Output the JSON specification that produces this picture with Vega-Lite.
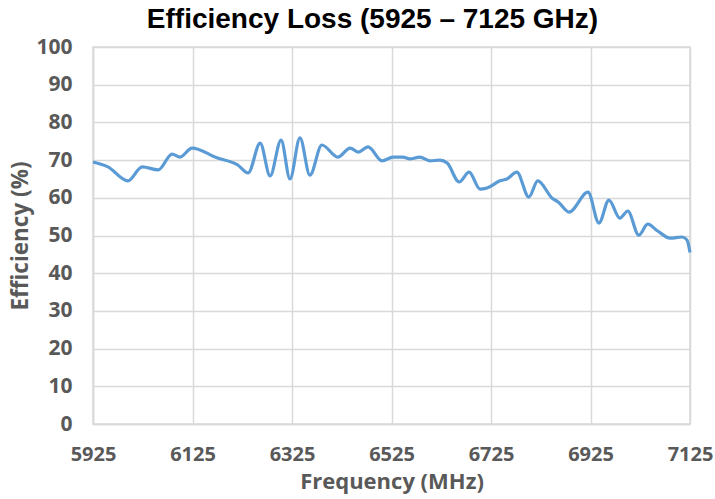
{
  "$schema": "https://vega.github.io/schema/vega-lite/v6.json",
  "width": 597,
  "height": 377,
  "autosize": {"type": "none"},
  "padding": {"left": 93, "top": 47, "right": 25, "bottom": 75},
  "background": "white",
  "title": {
    "text": "Efficiency Loss (5925 – 7125 GHz)",
    "font": "Liberation Sans",
    "fontSize": 28,
    "fontWeight": "bold",
    "color": "#000000",
    "anchor": "middle",
    "dx": -19,
    "offset": 2
  },
  "data": {
    "values": [
      {"f": 5925, "e": 69.5}, {"f": 5955, "e": 68.2}, {"f": 5995, "e": 64.5}, {"f": 6024, "e": 68.2},
      {"f": 6056, "e": 67.4}, {"f": 6084, "e": 71.6}, {"f": 6100, "e": 70.8}, {"f": 6124, "e": 73.2},
      {"f": 6174, "e": 70.6}, {"f": 6216, "e": 68.7}, {"f": 6237, "e": 66.6}, {"f": 6261, "e": 74.5},
      {"f": 6281, "e": 65.8}, {"f": 6303, "e": 75.3}, {"f": 6321, "e": 65.0}, {"f": 6341, "e": 75.9},
      {"f": 6361, "e": 66.0}, {"f": 6385, "e": 74.0}, {"f": 6417, "e": 70.8}, {"f": 6442, "e": 73.2},
      {"f": 6458, "e": 72.1}, {"f": 6478, "e": 73.5}, {"f": 6506, "e": 69.8}, {"f": 6528, "e": 70.8},
      {"f": 6548, "e": 70.8}, {"f": 6562, "e": 70.3}, {"f": 6582, "e": 70.8}, {"f": 6602, "e": 69.8},
      {"f": 6622, "e": 70.0}, {"f": 6637, "e": 69.2}, {"f": 6661, "e": 64.2}, {"f": 6681, "e": 66.8},
      {"f": 6703, "e": 62.3}, {"f": 6717, "e": 62.6}, {"f": 6743, "e": 64.5}, {"f": 6757, "e": 65.0},
      {"f": 6777, "e": 66.8}, {"f": 6801, "e": 60.2}, {"f": 6819, "e": 64.5}, {"f": 6848, "e": 59.9},
      {"f": 6860, "e": 58.9}, {"f": 6882, "e": 56.2}, {"f": 6920, "e": 61.5}, {"f": 6942, "e": 53.3},
      {"f": 6962, "e": 59.4}, {"f": 6984, "e": 54.6}, {"f": 7000, "e": 56.5}, {"f": 7022, "e": 50.1},
      {"f": 7040, "e": 53.0}, {"f": 7060, "e": 51.2}, {"f": 7085, "e": 49.3}, {"f": 7109, "e": 49.6},
      {"f": 7119, "e": 48.8}, {"f": 7125, "e": 45.5}
    ]
  },
  "mark": {"type": "line", "color": "#5B9BD5", "strokeWidth": 3.2, "interpolate": "monotone"},
  "encoding": {
    "x": {
      "field": "f", "type": "quantitative",
      "scale": {"domain": [5925, 7125], "nice": false, "zero": false},
      "axis": {
        "values": [5925, 6125, 6325, 6525, 6725, 6925, 7125],
        "format": "d",
        "title": "Frequency (MHz)",
        "titleFont": "Open Sans", "titleFontSize": 22, "titleFontWeight": "bold", "titleColor": "#595959",
        "titlePadding": 7,
        "labelFont": "Open Sans", "labelFontSize": 20, "labelFontWeight": "bold", "labelColor": "#595959",
        "labelPadding": 20,
        "labelFlush": false,
        "labelOverlap": false,
        "ticks": false,
        "domainColor": "#d9d9d9", "domainWidth": 1.5,
        "grid": true, "gridColor": "#d9d9d9", "gridWidth": 1.5
      }
    },
    "y": {
      "field": "e", "type": "quantitative",
      "scale": {"domain": [0, 100], "nice": false},
      "axis": {
        "values": [0, 10, 20, 30, 40, 50, 60, 70, 80, 90, 100],
        "title": "Efficiency (%)",
        "titleFont": "Open Sans", "titleFontSize": 22.5, "titleFontWeight": "bold", "titleColor": "#595959",
        "titlePadding": 3,
        "labelFont": "Open Sans", "labelFontSize": 21, "labelFontWeight": "bold", "labelColor": "#595959",
        "labelPadding": 21,
        "labelFlush": false,
        "ticks": false,
        "domainColor": "#d9d9d9", "domainWidth": 1.5,
        "grid": true, "gridColor": "#d9d9d9", "gridWidth": 1.5
      }
    }
  },
  "config": {"view": {"stroke": "#d9d9d9", "strokeWidth": 1.5}}
}
